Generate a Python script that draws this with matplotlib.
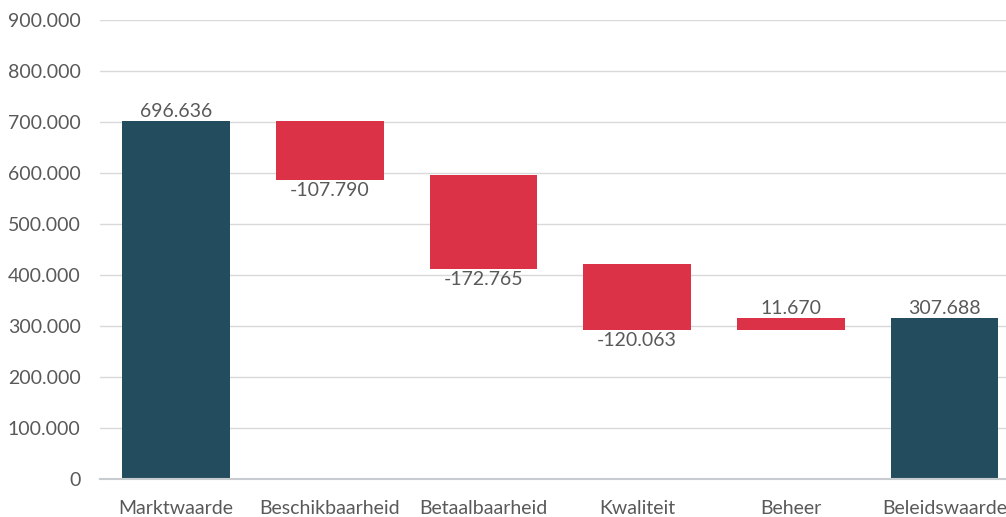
import matplotlib.pyplot as plt
import numpy as np

# waterfall data (as drawn in the picture)
categories = ['Marktwaarde', 'Beschikbaarheid', 'Betaalbaarheid', 'Kwaliteit', 'Beheer', 'Beleidswaarde']
labels = ['696.636', '-107.790', '-172.765', '-120.063', '11.670', '307.688']
bottoms = [0, 586000, 412000, 292000, 292000, 0]
tops = [702000, 702000, 596000, 421000, 315000, 315000]
kinds = ['total', 'down', 'down', 'down', 'up', 'total']

dark = '#234d5e'
red = '#dc3247'
grey = '#595959'

plt.rcParams['font.family'] = ['Lato', 'DejaVu Sans']

fig = plt.figure(figsize=(10.06, 5.17), dpi=100)
ax = fig.add_axes([100/1006, 38/517, 906/1006, 459/517])

x = np.arange(len(categories))
heights = [t - b for t, b in zip(tops, bottoms)]
colors = [dark if k == 'total' else red for k in kinds]
ax.bar(x, heights, bottom=bottoms, width=0.70, color=colors, zorder=3)

for i in range(len(categories)):
    if kinds[i] == 'down':
        ax.text(x[i], bottoms[i] - 4000, labels[i], ha='center', va='top',
                fontsize=14, color=grey, zorder=4)
    else:
        ax.text(x[i], tops[i] + 2000, labels[i], ha='center', va='bottom',
                fontsize=14, color=grey, zorder=4)

ax.set_xlim(-0.495, 5.40)
ax.set_ylim(0, 900000)
yt = np.arange(0, 900001, 100000)
ax.set_yticks(yt)
ax.set_yticklabels(['0'] + ['{:,}'.format(v).replace(',', '.') for v in yt[1:]])
ax.set_xticks(x)
ax.set_xticklabels(categories)
ax.tick_params(axis='both', length=0, labelsize=14, labelcolor=grey)
ax.tick_params(axis='x', pad=15)
ax.tick_params(axis='y', pad=14)
ax.grid(axis='y', color='#d9d9d9', lw=1, zorder=0)
for s in ['top', 'right', 'left']:
    ax.spines[s].set_visible(False)
ax.spines['bottom'].set_color('#c8ccd0')
ax.spines['bottom'].set_linewidth(1.5)
ax.spines['bottom'].set_zorder(5)

plt.savefig('out.png', dpi=100)
